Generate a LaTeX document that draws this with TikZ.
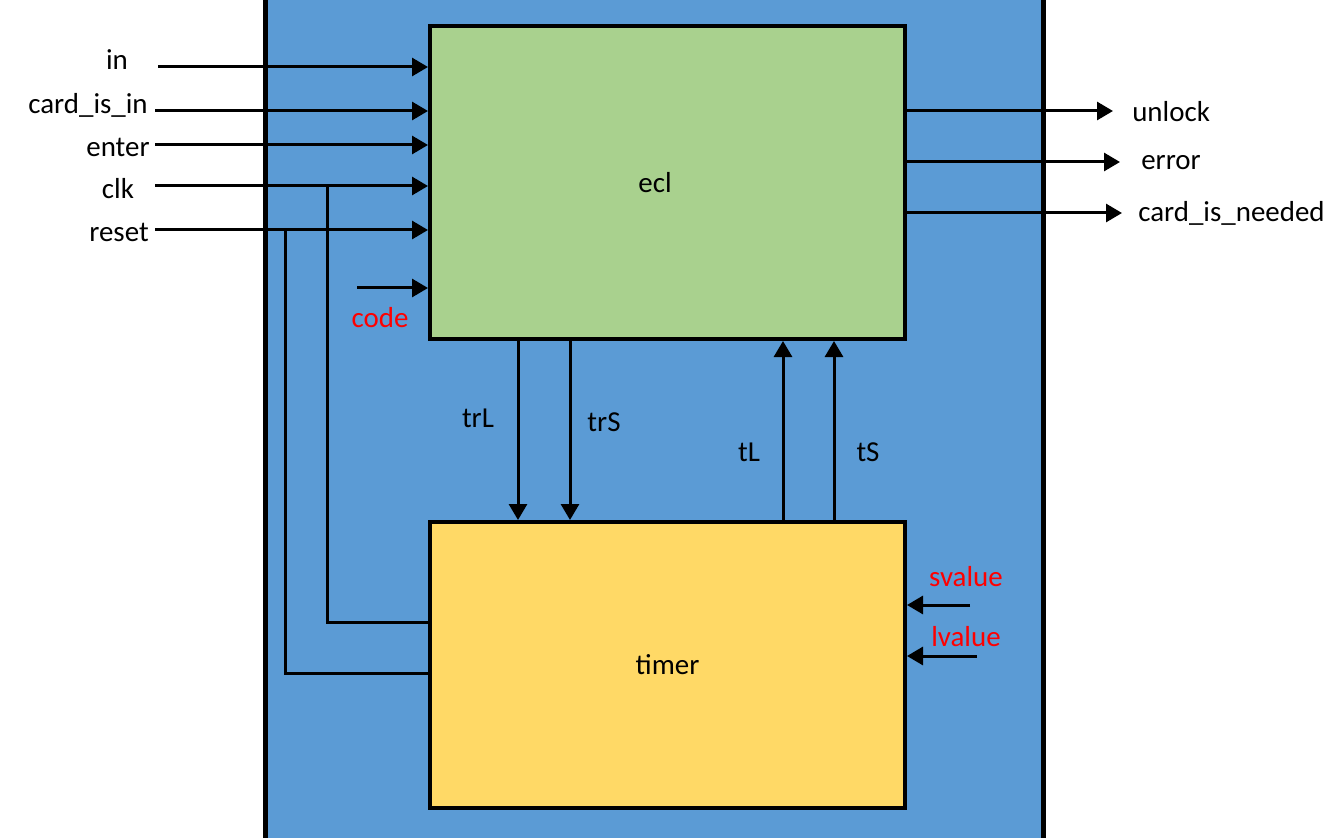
\documentclass[tikz,border=0pt]{standalone}
\usepackage{fontspec}
\setmainfont{Carlito}
\usetikzlibrary{arrows.meta}
\definecolor{sysblue}{HTML}{5B9BD5}
\definecolor{eclgreen}{HTML}{A9D18E}
\definecolor{timeryellow}{HTML}{FFD966}
\definecolor{sigred}{HTML}{FF0000}
\begin{document}
\begin{tikzpicture}[x=0.75pt,y=-0.75pt,
  font=\fontsize{21.7}{26}\selectfont,
  wire/.style={line width=2.25pt},
  sig/.style={wire,-{Triangle[length=12pt,width=13.5pt]}},
  blk/.style={draw=black,line width=3pt,minimum width=356.25pt,inner sep=0pt},
  lbl/.style={inner sep=0pt,text=black},
  rlbl/.style={lbl,text=sigred}]
\useasboundingbox (0,0) rectangle (1340,838);
\begin{scope}
  \clip (0,0) rectangle (1340,838);
  \draw[fill=sysblue,line width=3.5pt] (265.5,-20) rectangle (1043.5,860);
\end{scope}

% blocks
\node[blk,fill=eclgreen,minimum height=234.75pt] (ecl) at (667.5,182.5) {};
\node[lbl] (ecllbl) at (655,183) {ecl};
\node[blk,fill=timeryellow,minimum height=214.5pt] (timer) at (667.5,665) {timer};

% inputs
\node[lbl] (inL) at (117,60) {in};
\node[lbl] (cardL) at (88,105) {card\_is\_in};
\node[lbl] (enterL) at (118,147) {enter};
\node[lbl] (clkL) at (118,189) {clk};
\node[lbl] (resetL) at (119,232) {reset};
\coordinate (inS) at (158,67);
\coordinate (cardS) at (155,111);
\coordinate (enterS) at (155,145);
\coordinate (clkS) at (155,186);
\coordinate (resetS) at (155,230);
\draw[sig] (inS) -- (inS -| ecl.west);
\draw[sig] (cardS) -- (cardS -| ecl.west);
\draw[sig] (enterS) -- (enterS -| ecl.west);
\draw[sig] (clkS) -- (clkS -| ecl.west);
\draw[sig] (resetS) -- (resetS -| ecl.west);

% clk / reset branches to timer
\coordinate (clkJ) at (327,186);
\coordinate (clkT) at (327,622);
\coordinate (resetJ) at (285,230);
\coordinate (resetT) at (285,673);
\draw[wire] (clkJ) -- (clkT) -- (clkT -| timer.west);
\draw[wire] (resetJ) -- (resetT) -- (resetT -| timer.west);

% code
\coordinate (codeS) at (357,288);
\draw[sig] (codeS) -- (codeS -| ecl.west);
\node[rlbl] (codeL) at (380,318) {code};

% outputs
\coordinate (unT) at (1113,111);
\coordinate (errT) at (1120,162);
\coordinate (cinT) at (1122,213);
\draw[sig] (unT -| ecl.east) -- (unT);
\draw[sig] (errT -| ecl.east) -- (errT);
\draw[sig] (cinT -| ecl.east) -- (cinT);
\node[lbl,anchor=west] (unL) at (1132,112) {unlock};
\node[lbl,anchor=west] (errL) at (1141,163) {error};
\node[lbl,anchor=west] (cinL) at (1138,213) {card\_is\_needed};

% ecl <-> timer
\coordinate (trLx) at (518,0);
\coordinate (trSx) at (570,0);
\coordinate (tLx) at (783,0);
\coordinate (tSx) at (834,0);
\draw[sig] (trLx |- ecl.south) -- (trLx |- timer.north);
\draw[sig] (trSx |- ecl.south) -- (trSx |- timer.north);
\draw[sig] (tLx |- timer.north) -- (tLx |- ecl.south);
\draw[sig] (tSx |- timer.north) -- (tSx |- ecl.south);
\node[lbl] (trLL) at (478,418) {trL};
\node[lbl] (trSL) at (604,422) {trS};
\node[lbl] (tLL) at (749,452) {tL};
\node[lbl] (tSL) at (868,452) {tS};

% timer values
\coordinate (svS) at (970,605);
\coordinate (lvS) at (977,656);
\draw[sig] (svS) -- (svS -| timer.east);
\draw[sig] (lvS) -- (lvS -| timer.east);
\node[rlbl] (svL) at (966,577) {svalue};
\node[rlbl] (lvL) at (966,637) {lvalue};
\end{tikzpicture}
\end{document}
